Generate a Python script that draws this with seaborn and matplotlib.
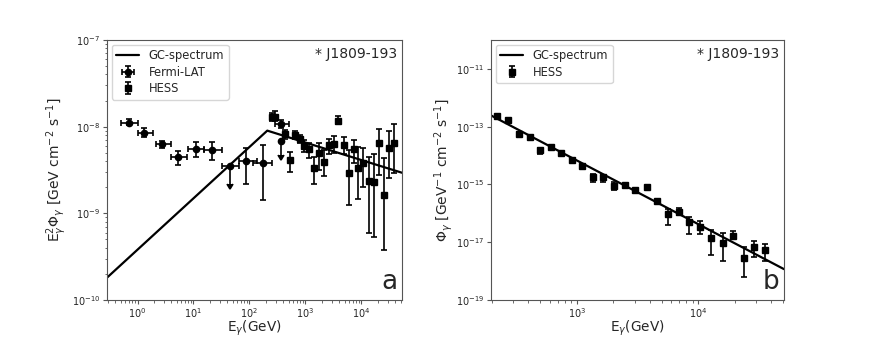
import matplotlib
matplotlib.use("Agg")
import matplotlib.pyplot as plt
import matplotlib.ticker as mticker
import seaborn as sns
import numpy as np

# ---- panel a: E^2 * flux ----
# GC-spectrum (broken power law, straight in log-log)
gc_a_E = [0.285, 208, 5.3e4]
gc_a_F = [1.81e-10, 9.0e-9, 2.94e-9]

# Fermi-LAT points
fermi_E = [0.71, 1.29, 2.7, 5.3, 11.1, 21.7, 85, 172, 365]
fermi_F = [1.11e-8, 8.5e-9, 6.25e-9, 4.5e-9, 5.57e-9, 5.38e-9, 4.0e-9, 3.78e-9, 1.07e-8]
fermi_F_lo = [1.04e-8, 7.5e-9, 5.6e-9, 3.6e-9, 4.5e-9, 4.1e-9, 2.2e-9, 1.43e-9, 9.6e-9]
fermi_F_hi = [1.23e-8, 9.7e-9, 6.8e-9, 5.3e-9, 6.6e-9, 6.6e-9, 5.7e-9, 6.2e-9, 1.2e-8]
fermi_E_lo = [0.5, 1.0, 2.1, 3.9, 7.9, 15.4, 64, 117, 285]
fermi_E_hi = [1.0, 1.9, 3.96, 7.7, 15.6, 32, 134, 250, 507]

# Fermi-LAT upper limits
ul_E = [45.4, 365]
ul_F = [3.55e-9, 6.8e-9]
ul_F_arrow = [2.2e-9, 4.7e-9]
ul_E_lo = [32, 365]
ul_E_hi = [64, 365]

# HESS points (panel a)
hess_a_E = [249, 289, 436, 529, 658, 795, 955, 1170, 1420, 1760, 2140, 2630, 3180,
            3890, 4880, 5890, 7250, 8720, 10700, 13400, 16500, 20500, 25200, 30600, 37600]
hess_a_F = [1.28e-8, 1.30e-8, 8.17e-9, 4.1e-9, 7.95e-9, 7.15e-9, 6.04e-9, 5.49e-9, 3.31e-9,
            5.0e-9, 3.94e-9, 6.14e-9, 6.25e-9, 1.17e-8, 6.14e-9, 2.94e-9, 5.49e-9, 3.31e-9,
            3.84e-9, 2.36e-9, 2.30e-9, 6.42e-9, 1.63e-9, 5.68e-9, 6.42e-9]
hess_a_lo = [1.17e-8, 1.17e-8, 7.3e-9, 3.03e-9, 7.2e-9, 6.4e-9, 5.1e-9, 4.3e-9, 2.2e-9,
             3.15e-9, 2.7e-9, 4.9e-9, 5.0e-9, 1.07e-8, 4.9e-9, 1.25e-9, 3.8e-9, 1.45e-9,
             2.0e-9, 5.9e-10, 5.4e-10, 2.76e-9, 3.8e-10, 2.53e-9, 2.9e-9]
hess_a_hi = [1.43e-8, 1.52e-8, 9.1e-9, 5.14e-9, 8.8e-9, 8.0e-9, 7.0e-9, 6.4e-9, 4.5e-9,
             6.4e-9, 5.4e-9, 7.3e-9, 7.8e-9, 1.34e-8, 7.7e-9, 5.4e-9, 7.0e-9, 5.9e-9,
             5.6e-9, 4.5e-9, 4.9e-9, 9.3e-9, 4.3e-9, 8.9e-9, 1.07e-8]

# ---- panel b: differential flux ----
gc_b_E = [197, 5.1e4]
gc_b_F = [2.45e-13, 1.17e-18]

hess_b_E = [222, 274, 337, 413, 499, 611, 743, 910, 1112, 1350, 1655, 2040, 2500,
            3050, 3770, 4600, 5640, 6900, 8440, 10300, 12700, 15900, 19400, 23800, 29100, 35600]
hess_b_F = [2.4e-13, 1.7e-13, 5.7e-14, 4.5e-14, 1.55e-14, 2.0e-14, 1.26e-14, 7.1e-15, 4.2e-15,
            1.87e-15, 1.78e-15, 9.1e-16, 9.6e-16, 6.4e-16, 8.3e-16, 2.7e-16, 9.5e-17, 1.15e-16,
            4.9e-17, 3.5e-17, 1.38e-17, 9.7e-18, 1.7e-17, 2.8e-18, 6.7e-18, 5.2e-18]
hess_b_lo = [2.2e-13, 1.55e-13, 5.1e-14, 4.1e-14, 1.1e-14, 1.8e-14, 1.15e-14, 6.4e-15, 3.8e-15,
             1.26e-15, 1.2e-15, 6.4e-16, 8.7e-16, 5.8e-16, 7.5e-16, 2.4e-16, 4.0e-17, 8.5e-17,
             2.0e-17, 2.0e-17, 3.7e-18, 2.2e-18, 1.25e-17, 6.5e-19, 3.1e-18, 2.2e-18]
hess_b_hi = [2.6e-13, 1.85e-13, 6.3e-14, 4.9e-14, 1.9e-14, 2.2e-14, 1.4e-14, 7.8e-15, 4.6e-15,
             2.3e-15, 2.2e-15, 1.2e-15, 1.06e-15, 7.0e-16, 9.1e-16, 3.0e-16, 1.38e-16, 1.5e-16,
             7.3e-17, 5.4e-17, 2.7e-17, 2.1e-17, 2.4e-17, 7.1e-18, 1.1e-17, 8.6e-18]


def asym(val, lo, hi):
    val, lo, hi = np.array(val), np.array(lo), np.array(hi)
    return [val - lo, hi - val]


def style_axes(ax, letter, ylab_x):
    ax.set_xlabel(r'E$_{\gamma}$(GeV)', fontsize=9.8)
    ax.xaxis.set_label_coords(0.5, -0.073)
    ax.yaxis.set_label_coords(ylab_x, 0.5)
    ax.tick_params(axis='both', which='major', labelsize=7, length=3, color='#555555')
    ax.tick_params(axis='x', which='major', pad=1.2)
    ax.tick_params(axis='y', which='major', pad=2)
    ax.tick_params(axis='both', which='minor', length=1.8, color='#555555')
    ax.text(0.985, 0.975, '* J1809-193', transform=ax.transAxes, ha='right', va='top', fontsize=10)
    ax.text(0.985, 0.02, letter, transform=ax.transAxes, ha='right', va='bottom', fontsize=19)
    ax.legend(loc='upper left', fontsize=8.3, frameon=True, borderaxespad=0.4,
              labelspacing=0.3, handlelength=2.0, borderpad=0.4)


sns.set_style("ticks")
plt.rcParams['font.family'] = ['DejaVu Sans']
plt.rcParams['axes.edgecolor'] = '#555555'

fig = plt.figure(figsize=(8.72, 3.37), dpi=100)
ax1 = fig.add_axes([0.1227, 0.1098, 0.3383, 0.7715])
ax2 = fig.add_axes([0.5631, 0.1098, 0.3360, 0.7715])

eb = dict(color='black', ecolor='black', elinewidth=1.2, capsize=2.5, capthick=1.2, linestyle='none')

# --- panel a ---
ax1.set_xscale('log')
ax1.set_yscale('log')
sns.lineplot(x=gc_a_E, y=gc_a_F, ax=ax1, color='black', linewidth=1.6, label='GC-spectrum')
ax1.errorbar(fermi_E, fermi_F, yerr=asym(fermi_F, fermi_F_lo, fermi_F_hi),
             xerr=asym(fermi_E, fermi_E_lo, fermi_E_hi), fmt='o', markersize=4.5,
             label='Fermi-LAT', **eb)
ul_err = np.array(ul_F) - np.array(ul_F_arrow)
ax1.errorbar(ul_E, ul_F, yerr=ul_err, xerr=asym(ul_E, ul_E_lo, ul_E_hi), uplims=True,
             fmt='o', markersize=4.5, **eb)
ax1.errorbar(hess_a_E, hess_a_F, yerr=asym(hess_a_F, hess_a_lo, hess_a_hi), fmt='s',
             markersize=4.5, label='HESS', **eb)
ax1.set_xlim(0.285, 5.3e4)
ax1.set_ylim(1e-10, 1e-7)
ax1.set_ylabel(r'E$_{\gamma}^{2}\Phi_{\gamma}$ [GeV cm$^{-2}$ s$^{-1}$]', fontsize=10)
style_axes(ax1, 'a', -0.13)

# --- panel b ---
ax2.set_xscale('log')
ax2.set_yscale('log')
sns.lineplot(x=gc_b_E, y=gc_b_F, ax=ax2, color='black', linewidth=1.6, label='GC-spectrum')
ax2.errorbar(hess_b_E, hess_b_F, yerr=asym(hess_b_F, hess_b_lo, hess_b_hi), fmt='s',
             markersize=4.5, label='HESS', **eb)
ax2.set_xlim(197, 5.1e4)
ax2.set_ylim(1e-19, 1e-10)
ax2.yaxis.set_major_locator(mticker.FixedLocator([1e-19, 1e-17, 1e-15, 1e-13, 1e-11]))
ax2.yaxis.set_minor_locator(mticker.NullLocator())
ax2.set_ylabel(r'$\Phi_{\gamma}$ [GeV$^{-1}$ cm$^{-2}$ s$^{-1}$]', fontsize=10)
style_axes(ax2, 'b', -0.124)

fig.savefig('out.png', dpi=100)
